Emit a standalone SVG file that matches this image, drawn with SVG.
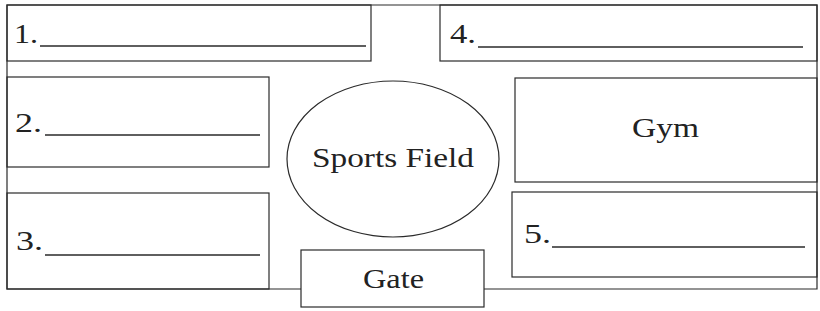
<svg xmlns="http://www.w3.org/2000/svg" width="820" height="311" viewBox="0 0 820 311">
<style>
.b{fill:none;stroke:#2a2a2a;stroke-width:1.2}
.u{stroke:#2a2a2a;stroke-width:1.5}
.t{font-family:"Liberation Serif","Times New Roman",serif;font-size:28px;fill:#222}
</style>
<rect width="820" height="311" fill="#ffffff"/>
<g id="frame">
<path class="b" d="M301,289 H7 V5 H817 V289 H484"/>
</g>
<g id="box1">
<rect class="b" x="7" y="5" width="364" height="56"/>
<text class="t" x="14" y="43" textLength="24" lengthAdjust="spacingAndGlyphs">1.</text>
<line class="u" x1="40" y1="46" x2="366" y2="46"/>
</g>
<g id="box4">
<rect class="b" x="440" y="5" width="377" height="56"/>
<text class="t" x="450" y="43" textLength="26" lengthAdjust="spacingAndGlyphs">4.</text>
<line class="u" x1="478" y1="47" x2="803" y2="47"/>
</g>
<g id="box2">
<rect class="b" x="7" y="77" width="262" height="90"/>
<text class="t" x="15" y="132" textLength="27" lengthAdjust="spacingAndGlyphs">2.</text>
<line class="u" x1="45" y1="135" x2="260" y2="135"/>
</g>
<g id="box3">
<rect class="b" x="7" y="193" width="262" height="96"/>
<text class="t" x="16" y="250" textLength="27" lengthAdjust="spacingAndGlyphs">3.</text>
<line class="u" x1="45" y1="255" x2="260" y2="255"/>
</g>
<g id="sports-field">
<ellipse class="b" cx="393" cy="159" rx="106" ry="78"/>
<text class="t" x="312" y="167" textLength="162" lengthAdjust="spacingAndGlyphs">Sports Field</text>
</g>
<g id="gym">
<rect class="b" x="515" y="78" width="302" height="104"/>
<text class="t" x="632" y="137" textLength="67" lengthAdjust="spacingAndGlyphs">Gym</text>
</g>
<g id="box5">
<rect class="b" x="512" y="192" width="305" height="85"/>
<text class="t" x="524" y="243" textLength="27" lengthAdjust="spacingAndGlyphs">5.</text>
<line class="u" x1="552" y1="247" x2="805" y2="247"/>
</g>
<g id="gate">
<rect class="b" x="301" y="250" width="183" height="57"/>
<text class="t" x="363" y="288" textLength="61" lengthAdjust="spacingAndGlyphs">Gate</text>
</g>
<g id="connectors"></g>
</svg>
